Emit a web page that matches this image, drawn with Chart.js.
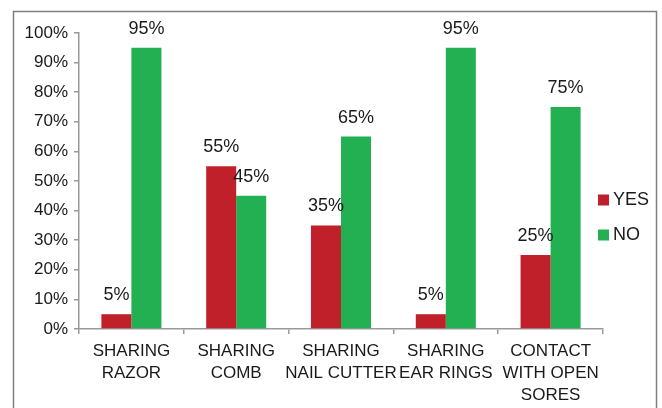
<!DOCTYPE html>
<html>
<head>
<meta charset="utf-8">
<script src="https://cdn.jsdelivr.net/npm/chart.js@4.4.1/dist/chart.umd.min.js"></script>
<style>
html,body{margin:0;padding:0;background:#fff;}
#wrap{width:662px;height:408px;position:relative;}
</style>
</head>
<body>
<div id="wrap"><canvas id="c" width="662" height="408"></canvas></div>
<script>
const categories = [
  ["SHARING", "RAZOR"],
  ["SHARING", "COMB"],
  ["SHARING", "NAIL CUTTER"],
  ["SHARING", "EAR RINGS"],
  ["CONTACT", "WITH OPEN", "SORES"]
];
const yesValues = [5, 55, 35, 5, 25];
const noValues = [95, 45, 65, 95, 75];
const seriesNames = ["YES", "NO"];
const yTicks = [0, 10, 20, 30, 40, 50, 60, 70, 80, 90, 100];

const RED = "#C0202A";
const GREEN = "#22B052";
const FONT = "'Liberation Sans', Arial, sans-serif";
const TEXT = "#1a1a1a";

const framePlugin = {
  id: "frame",
  beforeDraw(chart) {
    const ctx = chart.ctx;
    ctx.save();
    ctx.fillStyle = "#fff";
    ctx.fillRect(0, 0, chart.width, chart.height);
    ctx.strokeStyle = "#7f7f7f";
    ctx.lineWidth = 1.5;
    ctx.strokeRect(13.5, 11.5, 643, 420);
    ctx.restore();
  }
};

const labelPlugin = {
  id: "vlabels",
  afterDatasetsDraw(chart) {
    const ctx = chart.ctx;
    ctx.save();
    ctx.font = "18px " + FONT;
    ctx.fillStyle = TEXT;
    ctx.textAlign = "center";
    ctx.textBaseline = "middle";
    chart.data.datasets.forEach((ds, di) => {
      chart.getDatasetMeta(di).data.forEach((bar, i) => {
        ctx.fillText(ds.data[i] + "%", bar.x, bar.y - 19);
      });
    });
    ctx.restore();
  }
};

const legendPlugin = {
  id: "customLegend",
  afterDraw(chart) {
    const ctx = chart.ctx;
    ctx.save();
    ctx.font = "18px " + FONT;
    ctx.textBaseline = "middle";
    ctx.textAlign = "left";
    const x0 = 598, y0 = 200, gap = 35;
    chart.data.datasets.forEach((ds, i) => {
      const y = y0 + i * gap;
      ctx.fillStyle = ds.backgroundColor;
      ctx.fillRect(x0, y - 5.5, 11, 11);
      ctx.fillStyle = TEXT;
      ctx.fillText(ds.label, x0 + 15, y);
    });
    ctx.restore();
  }
};

new Chart(document.getElementById("c"), {
  type: "bar",
  data: {
    labels: categories,
    datasets: [
      { label: seriesNames[0], data: yesValues, backgroundColor: RED },
      { label: seriesNames[1], data: noValues, backgroundColor: GREEN }
    ]
  },
  options: {
    responsive: false,
    animation: false,
    events: [],
    layout: { padding: { left: 13, top: 33, right: 59, bottom: 0 } },
    datasets: { bar: { categoryPercentage: 0.573, barPercentage: 1 } },
    plugins: { legend: { display: false }, tooltip: { enabled: false } },
    scales: {
      x: {
        grid: { offset: true, drawOnChartArea: false, color: "#999", tickLength: 5, lineWidth: 1.5 },
        border: { color: "#999", width: 1.5 },
        ticks: { color: TEXT, font: { family: FONT, size: 17, lineHeight: 1.3 }, padding: 6, maxRotation: 0, autoSkip: false },
        afterFit: s => { s.height = 79; }
      },
      y: {
        min: 0, max: 100,
        afterBuildTicks: s => { s.ticks = yTicks.map(v => ({ value: v })); },
        grid: { drawOnChartArea: false, color: "#999", tickLength: 5, lineWidth: 1.5 },
        border: { color: "#999", width: 1.5 },
        ticks: { color: TEXT, font: { family: FONT, size: 17 }, padding: 6, callback: v => v + "%" },
        afterFit: s => { s.width = 66; }
      }
    }
  },
  plugins: [framePlugin, labelPlugin, legendPlugin]
});
</script>
</body>
</html>
